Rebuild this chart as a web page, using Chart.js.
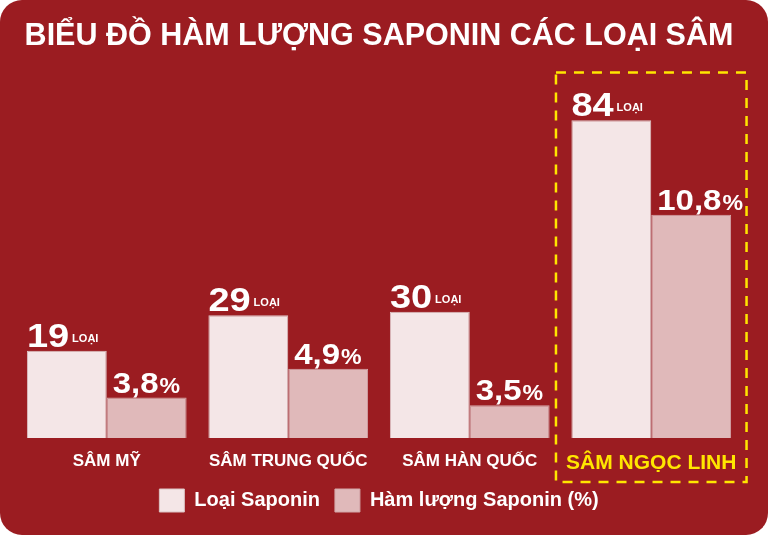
<!DOCTYPE html>
<html>
<head>
<meta charset="utf-8">
<script src="https://cdn.jsdelivr.net/npm/chart.js@4.4.1/dist/chart.umd.min.js"></script>
<style>
  html, body { margin: 0; padding: 0; background: #ffffff; }
  #wrap {
    width: 768px; height: 535px;
    background: #9b1c21;
    border-radius: 22px;
    overflow: hidden;
  }
</style>
</head>
<body>
<div id="wrap"><canvas id="sapChart" width="768" height="535"></canvas></div>
<script>
// data
const categories = ['SÂM MỸ', 'SÂM TRUNG QUỐC', 'SÂM HÀN QUỐC', 'SÂM NGỌC LINH'];
const soLoai = [19, 29, 30, 84];          // Loại Saponin
const hamLuong = [3.8, 4.9, 3.5, 10.8];   // Hàm lượng Saponin (%)
const seriesNames = ['Loại Saponin', 'Hàm lượng Saponin (%)'];
const highlightIndex = 3;

const FONT = "'Liberation Sans', Arial, sans-serif";
const YELLOW = '#ffe600';

// the two series are drawn on their own hidden axes
const yLoai = { min: -5.6, max: 98.3 };
const yPct = { min: 2.25, max: 16.36 };

// the numbers in the picture use a wide bold face, so stretch a little
function wideText(ctx, text, x, y, size, stretch) {
  ctx.font = 'bold ' + size + 'px ' + FONT;
  ctx.save();
  ctx.translate(x, y);
  ctx.scale(stretch, 1);
  ctx.fillText(text, 0, 0);
  ctx.restore();
  return ctx.measureText(text).width * stretch;
}

// value labels over the bars: "19 LOẠI" and "3,8%"
const barLabels = {
  id: 'barLabels',
  afterDatasetsDraw(chart) {
    const ctx = chart.ctx;
    ctx.save();
    ctx.fillStyle = '#ffffff';
    ctx.textBaseline = 'alphabetic';
    ctx.textAlign = 'left';

    chart.getDatasetMeta(0).data.forEach((bar, i) => {
      const left = bar.x - bar.width / 2;
      const w = wideText(ctx, String(soLoai[i]), left, bar.y - 4, 33, 1.15);
      ctx.font = 'bold 11px ' + FONT;
      ctx.fillText('LOẠI', left + w + 3, bar.y - 9);
    });

    chart.getDatasetMeta(1).data.forEach((bar, i) => {
      const left = bar.x - bar.width / 2 + 6;
      const num = String(hamLuong[i]).replace('.', ',');
      const w = wideText(ctx, num, left, bar.y - 5, 30, 1.1);
      wideText(ctx, '%', left + w + 1, bar.y - 5, 22, 1.05);
    });
    ctx.restore();
  }
};

// yellow dashed frame around Sâm Ngọc Linh
const highlightBox = {
  id: 'highlightBox',
  afterDraw(chart) {
    const ctx = chart.ctx;
    const x = chart.scales.x;
    const half = (x.getPixelForValue(1) - x.getPixelForValue(0)) / 2 * 1.05;
    const cx = x.getPixelForValue(highlightIndex);
    const top = chart.chartArea.top + 3;
    const bottom = chart.chartArea.bottom + 44;
    ctx.save();
    ctx.strokeStyle = YELLOW;
    ctx.lineWidth = 2.5;
    ctx.setLineDash([10, 8]);
    ctx.strokeRect(cx - half, top, half * 2, bottom - top);
    ctx.restore();
  }
};

new Chart(document.getElementById('sapChart'), {
  type: 'bar',
  data: {
    labels: categories,
    datasets: [{
      label: seriesNames[0],
      data: soLoai,
      yAxisID: 'y',
      base: yLoai.min,
      backgroundColor: '#f4e6e7',
      borderColor: '#dcc3c4',
      borderWidth: 1
    }, {
      label: seriesNames[1],
      data: hamLuong,
      yAxisID: 'y1',
      base: yPct.min,
      backgroundColor: '#e0b9ba',
      borderColor: '#d3a7a9',
      borderWidth: 1
    }]
  },
  options: {
    responsive: false,
    animation: false,
    layout: { padding: { left: 16, right: 26, bottom: 13 } },
    datasets: {
      bar: { categoryPercentage: 0.88, barPercentage: 1.0 }
    },
    plugins: {
      title: {
        display: true,
        text: 'BIỂU ĐỒ HÀM LƯỢNG SAPONIN CÁC LOẠI SÂM',
        color: '#ffffff',
        font: { family: FONT, size: 30.5, weight: 'bold' },
        padding: { top: 18, bottom: 15 }
      },
      legend: {
        position: 'bottom',
        labels: {
          color: '#ffffff',
          font: { family: FONT, size: 20, weight: 'bold' },
          boxWidth: 25,
          boxHeight: 23,
          padding: 15
        }
      },
      tooltip: { enabled: false }
    },
    scales: {
      x: {
        grid: { display: false, drawTicks: false },
        border: { display: false },
        afterFit: scale => { scale.height = 36; },
        ticks: {
          padding: 13,
          color: c => c.index === highlightIndex ? YELLOW : '#ffffff',
          font: c => ({ family: FONT, size: c.index === highlightIndex ? 21 : 17, weight: 'bold' })
        }
      },
      y: { display: false, min: yLoai.min, max: yLoai.max },
      y1: { display: false, min: yPct.min, max: yPct.max }
    }
  },
  plugins: [barLabels, highlightBox]
});
</script>
</body>
</html>
